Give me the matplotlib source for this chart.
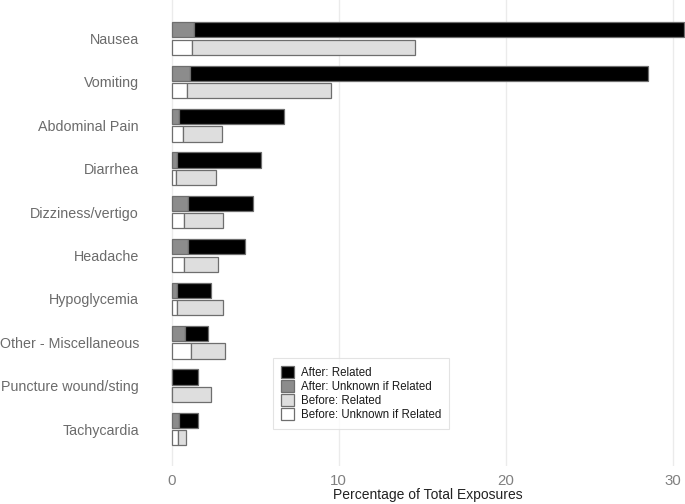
import matplotlib
matplotlib.use("Agg")
import matplotlib.pyplot as plt
from matplotlib.patches import Patch
import numpy as np

plt.rcParams['font.family'] = ['Liberation Sans', 'DejaVu Sans']

categories = ["Nausea", "Vomiting", "Abdominal Pain", "Diarrhea", "Dizziness/vertigo",
              "Headache", "Hypoglycemia", "Other - Miscellaneous", "Puncture wound/sting",
              "Tachycardia"]
after_total = [30.7, 28.55, 6.74, 5.36, 4.88, 4.42, 2.38, 2.2, 1.58, 1.58]
after_unknown = [1.32, 1.08, 0.46, 0.3, 0.98, 1.0, 0.3, 0.82, 0.0, 0.46]
before_total = [14.56, 9.56, 3.02, 2.64, 3.06, 2.76, 3.06, 3.2, 2.38, 0.88]
before_unknown = [1.24, 0.94, 0.70, 0.26, 0.76, 0.74, 0.32, 1.18, 0.0, 0.40]
x_ticks = [0, 10, 20, 30]

after_related = np.array(after_total) - np.array(after_unknown)
before_related = np.array(before_total) - np.array(before_unknown)

W, H = 685, 504
fig = plt.figure(figsize=(W / 100, H / 100), dpi=100)
ax_left, ax_right, ax_top, ax_bottom = 146, 710, 0, 466
ax = fig.add_axes([ax_left / W, 1 - ax_bottom / H, (ax_right - ax_left) / W, (ax_bottom - ax_top) / H])

y = np.arange(len(categories))
h = 0.35
off = 0.2
edge = '#6e6e6e'
lw = 0.9

c_ar, c_au, c_br, c_bu = '#000000', '#8c8c8c', '#dedede', '#ffffff'

ax.barh(y - off, after_unknown, height=h, color=c_au, edgecolor=edge, linewidth=lw, zorder=3)
ax.barh(y - off, after_related, left=after_unknown, height=h, color=c_ar, edgecolor=edge, linewidth=lw, zorder=3)
ax.barh(y + off, before_unknown, height=h, color=c_bu, edgecolor=edge, linewidth=lw, zorder=3)
ax.barh(y + off, before_related, left=before_unknown, height=h, color=c_br, edgecolor=edge, linewidth=lw, zorder=3)

ax.set_xlim(-1.535, 32.24)
ax.set_ylim(9.85, -0.887)
ax.set_yticks(y)
ax.set_yticklabels(categories)
ax.set_xticks(x_ticks)
ax.tick_params(axis='y', length=0, pad=5, labelsize=10.3, labelcolor='#6b6b6b')
ax.tick_params(axis='x', length=0, pad=6, labelsize=10.8, labelcolor='#808080')
ax.grid(axis='x', color='#ebebeb', linewidth=1.0, zorder=0)
ax.set_axisbelow(True)
for s in ax.spines.values():
    s.set_visible(False)
ax.set_xlabel("Percentage of Total Exposures", fontsize=10, color='#222222', labelpad=0)

handles = [Patch(facecolor=c_ar, edgecolor=edge, linewidth=lw, label='After: Related'),
           Patch(facecolor=c_au, edgecolor=edge, linewidth=lw, label='After: Unknown if Related'),
           Patch(facecolor=c_br, edgecolor=edge, linewidth=lw, label='Before: Related'),
           Patch(facecolor=c_bu, edgecolor=edge, linewidth=lw, label='Before: Unknown if Related')]
leg = fig.legend(handles=handles, loc='upper left', bbox_to_anchor=(273 / W, 1 - 358 / H),
                 bbox_transform=fig.transFigure, borderaxespad=0, fontsize=8.3,
                 handlelength=1.1, handleheight=1.15, labelspacing=0.12, handletextpad=0.6,
                 borderpad=0.7, frameon=True, fancybox=False, edgecolor='#dddddd')
leg.get_frame().set_linewidth(0.8)
for t in leg.get_texts():
    t.set_color('#1a1a1a')

fig.savefig("out.png", dpi=100)
